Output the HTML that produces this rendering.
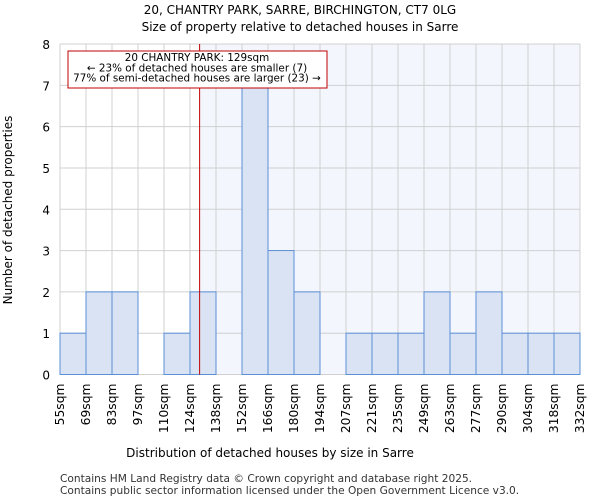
<!DOCTYPE html>
<html><head><meta charset="utf-8"><style>
body{margin:0;background:#fff;font-family:"DejaVu Sans","Liberation Sans",sans-serif}
</style></head><body>
<svg width="600" height="500" xmlns="http://www.w3.org/2000/svg" font-family="DejaVu Sans, Liberation Sans, sans-serif">
<text x="300" y="14" text-anchor="middle" font-size="12">20, CHANTRY PARK, SARRE, BIRCHINGTON, CT7 0LG</text>
<text x="300" y="31" text-anchor="middle" font-size="12">Size of property relative to detached houses in Sarre</text>
<g id="plot"></g>
<text x="270" y="457" text-anchor="middle" font-size="12">Distribution of detached houses by size in Sarre</text>
<text transform="translate(12,210) rotate(-90)" text-anchor="middle" font-size="12">Number of detached properties</text>
<text x="60" y="482" font-size="10.6" fill="#333">Contains HM Land Registry data © Crown copyright and database right 2025.</text>
<text x="60" y="494" font-size="10.6" fill="#333">Contains public sector information licensed under the Open Government Licence v3.0.</text>
</svg>
<script>
const labels=["55sqm","69sqm","83sqm","97sqm","110sqm","124sqm","138sqm","152sqm","166sqm","180sqm","194sqm","207sqm","221sqm","235sqm","249sqm","263sqm","277sqm","290sqm","304sqm","318sqm","332sqm"];
const counts=[1,2,2,0,1,2,0,7,3,2,0,1,1,1,2,1,2,1,1,1];
const yTicks=[0,1,2,3,4,5,6,7,8];
const propertyPos=5.37;
const NS="http://www.w3.org/2000/svg";
const g=document.getElementById('plot');
const L=60,R=580,T=44,B=374.5;
const bw=(R-L)/counts.length;
const xs=i=>L+i*bw;
const ys=v=>B-v*(B-T)/8;
function mk(t,a){const e=document.createElementNS(NS,t);for(const k in a)e.setAttribute(k,a[k]);g.appendChild(e);return e;}
const px=xs(propertyPos);
let e=mk('rect',{x:px,y:T,width:R-px,height:B-T,fill:'#f3f6fd'});


for(let i=0;i<=counts.length;i++){e=mk('line',{x1:xs(i),x2:xs(i),y1:T,y2:B,stroke:'#d0d0d0'});

}
yTicks.forEach(v=>{e=mk('line',{x1:L,x2:R,y1:ys(v),y2:ys(v),stroke:'#d0d0d0'});


e=mk('text',{x:L-10,y:ys(v)+5,'text-anchor':'end','font-size':'12'});e.textContent=v;

});
counts.forEach((c,i)=>{if(!c)return;e=mk('rect',{x:xs(i),y:ys(c),width:bw,height:B-ys(c),fill:'#dae3f3',stroke:'#5b8fd6','stroke-width':1});

});
labels.forEach((l,i)=>{const x=xs(i);e=mk('text',{transform:`translate(${x+4},${B+9}) rotate(-90)`,'text-anchor':'end','font-size':'12.3'});e.textContent=l;

});
e=mk('line',{x1:px,x2:px,y1:T,y2:B,stroke:'#c00000','stroke-width':1});


e=mk('rect',{x:68,y:51,width:259,height:37,fill:'#fff',stroke:'#c00000'});


["20 CHANTRY PARK: 129sqm","← 23% of detached houses are smaller (7)","77% of semi-detached houses are larger (23) →"].forEach((t,i)=>{e=mk('text',{x:197,y:61+i*10.3,'text-anchor':'middle','font-size':'10.4'});e.textContent=t;

});
</script>
</body></html>
